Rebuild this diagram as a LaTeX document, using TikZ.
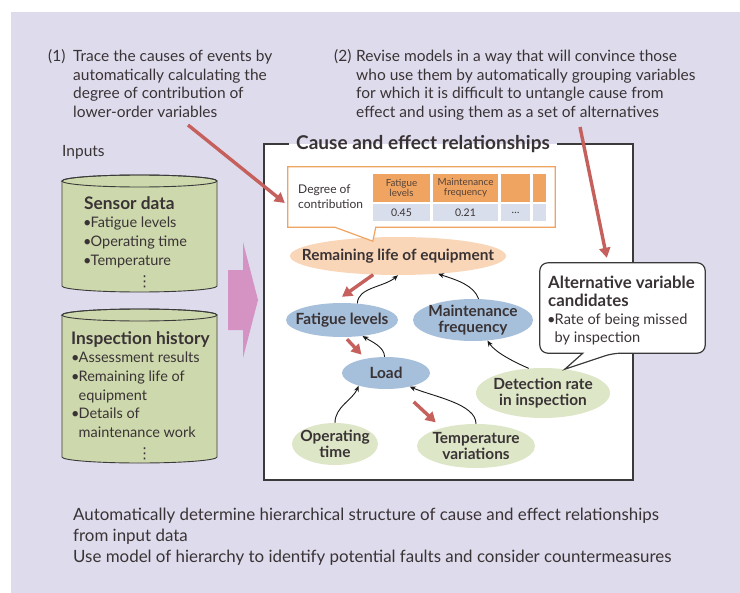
\documentclass[tikz,border=0pt]{standalone}
\usepackage{fontspec}
\setmainfont{Lato}
\newfontfamily\dejavu{DejaVu Sans}
\usetikzlibrary{arrows.meta,shapes.geometric,calc}
\definecolor{lav}{HTML}{DEDBEC}
\definecolor{txt}{HTML}{3A3335}
\definecolor{cylg}{HTML}{CDD8AD}
\definecolor{pinkc}{HTML}{D493C2}
\definecolor{peach}{HTML}{F9D6B7}
\definecolor{bluec}{HTML}{A6BFDB}
\definecolor{greenc}{HTML}{DDE6C7}
\definecolor{orangec}{HTML}{F0A462}
\definecolor{rowc}{HTML}{D8DEEB}
\definecolor{redc}{HTML}{C5605C}
\definecolor{linec}{HTML}{3A3A3A}
\newcommand\bul{\makebox[7.5bp][l]{•}}
\newcommand\nob{\hspace*{7.5bp}}
\newcommand\vdotz{{\dejavu\fontsize{15bp}{16bp}\selectfont ⋮}}
\begin{document}
\begin{tikzpicture}[x=1bp,y=-1bp,
  every node/.style={inner sep=0pt,text=txt},
  toptext/.style={anchor=base west,align=left,font=\fontsize{15.5bp}{18.5bp}\selectfont},
  cyltext/.style={anchor=base west,align=left,font=\fontsize{14.5bp}{18.7bp}\selectfont},
  cyltitle/.style={anchor=base west,font=\fontsize{17.3bp}{20bp}\selectfont\bfseries},
  elli/.style={ellipse,draw=none},
  etext/.style={align=center,font=\fontsize{15.4bp}{16.5bp}\selectfont\bfseries},
  hcell/.style={rectangle,fill=orangec,align=center,text=txt!80!brown,font=\fontsize{9.8bp}{10.5bp}\selectfont},
  vcell/.style={rectangle,fill=rowc,align=center,font=\fontsize{10.5bp}{12bp}\selectfont},
  cylline/.style={draw=linec,line width=0.9bp},
  redarr/.style={line width=3.4bp,draw=redc,-{Triangle[length=10bp,width=11bp]}},
  conn/.style={line width=0.9bp,draw=black!90,-{Stealth[length=6bp,width=5bp]}}]
\useasboundingbox (0,0) rectangle (740,593);
\fill[white] (0,0) rectangle (740,593);
\fill[lav] (11,12) rectangle (740,593);

% top texts (base anchor = last line baseline)
\node[anchor=base west,font=\fontsize{15.5bp}{18.5bp}\selectfont] (n1num) at (48,62) {(1)};
\node[toptext] (n1) at (73,117.5) {Trace the causes of events by\\automatically calculating the\\degree of contribution of\\lower-order variables};
\node[anchor=base west,font=\fontsize{15.5bp}{18.5bp}\selectfont] (n2num) at (334,62) {(2)};
\node[toptext] (n2) at (356,117.5) {Revise models in a way that will convince those\\who use them by automatically grouping variables\\for which it is difficult to untangle cause from\\effect and using them as a set of alternatives};
\node[anchor=base west,font=\fontsize{15.5bp}{18.5bp}\selectfont] (inputs) at (62,157) {Inputs};

% cylinders
\path[fill=cylg,cylline] (62,181) -- (62,286) arc[start angle=180,end angle=360,x radius=77.5bp,y radius=6bp] -- (217,181) arc[start angle=0,end angle=180,x radius=77.5bp,y radius=6bp] -- cycle;
\draw[cylline] (139.5,181) ellipse[x radius=77.5bp,y radius=6bp];
\node[cyltitle] (sens) at (84,210) {Sensor data};
\node[cyltext] (senslist) at (83,286) {\bul Fatigue levels\\\bul Operating time\\\bul Temperature\\[2bp]\hspace*{54bp}\vdotz};

\path[fill=cylg,cylline] (62,315) -- (62,457) arc[start angle=180,end angle=360,x radius=77.5bp,y radius=6bp] -- (217,315) arc[start angle=0,end angle=180,x radius=77.5bp,y radius=6bp] -- cycle;
\draw[cylline] (139.5,315) ellipse[x radius=77.5bp,y radius=6bp];
\node[cyltitle] (insp) at (71,344) {Inspection history};
\node[cyltext] (insplist) at (71,458.2) {\bul Assessment results\\\bul Remaining life of\\\nob equipment\\\bul Details of\\\nob maintenance work\\[2bp]\hspace*{66bp}\vdotz};

% pink arrow
\fill[pinkc] (228,270) -- (243,270) -- (243,242) -- (258,300) -- (243,358) -- (243,330) -- (228,330) -- cycle;

% main box
\node[rectangle,fill=white,minimum width=369bp,minimum height=336bp] (cbox) at (448.5,312) {};
\node[anchor=base west,font=\fontsize{19bp}{20bp}\selectfont\bfseries] (title) at (296,150) {Cause and effect relationships};
\draw[draw=linec,line width=1.5bp] ([xshift=-7bp]title.west |- cbox.north) -- (cbox.north west) -- (cbox.south west) -- (cbox.south east) -- (cbox.north east) -- ([xshift=7bp]title.east |- cbox.north);

% ellipses (shape) and their texts
\node[elli,fill=peach,minimum width=216bp,minimum height=38bp] (rem) at (398,256) {};
\node[elli,fill=bluec,minimum width=112bp,minimum height=34bp] (fat) at (342,320) {};
\node[elli,fill=bluec,minimum width=120bp,minimum height=42bp] (mai) at (473,320) {};
\node[elli,fill=bluec,minimum width=88bp,minimum height=32bp] (load) at (386,373) {};
\node[elli,fill=greenc,minimum width=86bp,minimum height=42bp] (ope) at (335,444) {};
\node[elli,fill=greenc,minimum width=118bp,minimum height=44bp] (tem) at (476,446) {};
\node[elli,fill=greenc,minimum width=134bp,minimum height=50bp] (det) at (543,393) {};
\node[etext] (remt) at (rem) {Remaining life of equipment};
\node[etext] (fatt) at (fat) {Fatigue levels};
\node[etext] (mait) at (mai) {Maintenance\\frequency};
\node[etext] (loadt) at (load) {Load};
\node[etext] (opet) at (ope) {Operating\\time};
\node[etext] (temt) at (tem) {Temperature\\variations};
\node[etext] (dett) at (det) {Detection rate\\in inspection};

% contribution callout
\node[rectangle,minimum width=267bp,minimum height=60bp] (cal) at (421.5,197) {};
\draw[draw=orangec,line width=1.2bp,fill=white] (cal.north west) -- (cal.north east) -- (cal.south east) -- ($(cal.south west)+(88,0)$) -- ($(cal.south west)+(85,14)$) -- ($(cal.south west)+(47,0)$) -- (cal.south west) -- cycle;
\node[anchor=base west,align=left,font=\fontsize{12bp}{15bp}\selectfont] (deg) at (298,209) {Degree of\\contribution};
\node[hcell,minimum width=57bp,minimum height=28bp] (h1) at (401.5,188) {Fatigue\\levels};
\node[hcell,minimum width=65bp,minimum height=28bp] (h2) at (465.5,188) {Maintenance\\frequency};
\node[hcell,minimum width=29bp,minimum height=28bp] (h3) at (515.5,188) {};
\node[hcell,minimum width=13bp,minimum height=28bp] (h4) at (539.5,188) {};
\node[vcell,minimum width=57bp,minimum height=17bp] (v1) at (401.5,212.5) {0.45};
\node[vcell,minimum width=65bp,minimum height=17bp] (v2) at (465.5,212.5) {0.21};
\node[vcell,minimum width=29bp,minimum height=17bp] (v3) at (515.5,212.5) {\dots};
\node[vcell,minimum width=13bp,minimum height=17bp] (v4) at (539.5,212.5) {};

% alternative callout
\node[rectangle,minimum width=165bp,minimum height=90bp] (alt) at (622.5,308) {};
\draw[draw=linec,line width=1.2bp,fill=white,rounded corners=8bp] ($(alt.south west)+(43,0)$) -- (alt.south west) -- (alt.north west) -- (alt.north east) -- (alt.south east) -- ($(alt.south west)+(73,0)$) [sharp corners] -- ($(alt.south west)+(25,16)$) -- cycle;
\node[anchor=base west,align=left,font=\fontsize{16.8bp}{18bp}\selectfont\bfseries] (altt) at (548,306) {Alternative variable\\candidates};
\node[anchor=base west,align=left,font=\fontsize{14.6bp}{18bp}\selectfont] (altl) at (547,342) {\bul Rate of being missed\\\nob by inspection};

% thin causal connectors
\draw[conn] (fat.47) .. controls +(0,-16) and +(-14,12) .. (rem.south);
\draw[conn] (mai.75) .. controls +(-5,-14) and +(18,6) .. (rem.-24);
\draw[conn] (load.95) .. controls +(0,-10) and +(8,5) .. (fat.-38);
\draw[conn] (ope.north) .. controls +(0,-16) and +(-6,14) .. (load.-155);
\draw[conn] (tem.north) .. controls +(0,-20) and +(24,10) .. (load.-30);
\draw[conn] (det.120) .. controls +(-14,-6) and +(8,12) .. (mai.-55);

% red arrows
\coordinate (r1s) at (188,125);
\coordinate (r2s) at (580,127);
\draw[redarr] (r1s) -- ($(cal.west)+(-3,6)$);
\draw[redarr] (r2s) -- ($(alt.north west)+(67,-5)$);
\draw[redarr] (rem.-143) -- ($(fat.north)+(0,-6)$);
\draw[redarr] ($(fat.south)+(5,2)$) -- ($(load.145)+(-4,-4)$);
\draw[redarr] ($(load.-40)+(10,14)$) -- ($(tem.150)+(-8,-5)$);

% bottom text
\node[anchor=base west,align=left,font=\fontsize{16.9bp}{21bp}\selectfont] (bottom) at (73,562) {Automatically determine hierarchical structure of cause and effect relationships\\from input data\\Use model of hierarchy to identify potential faults and consider countermeasures};
\end{tikzpicture}
\end{document}
